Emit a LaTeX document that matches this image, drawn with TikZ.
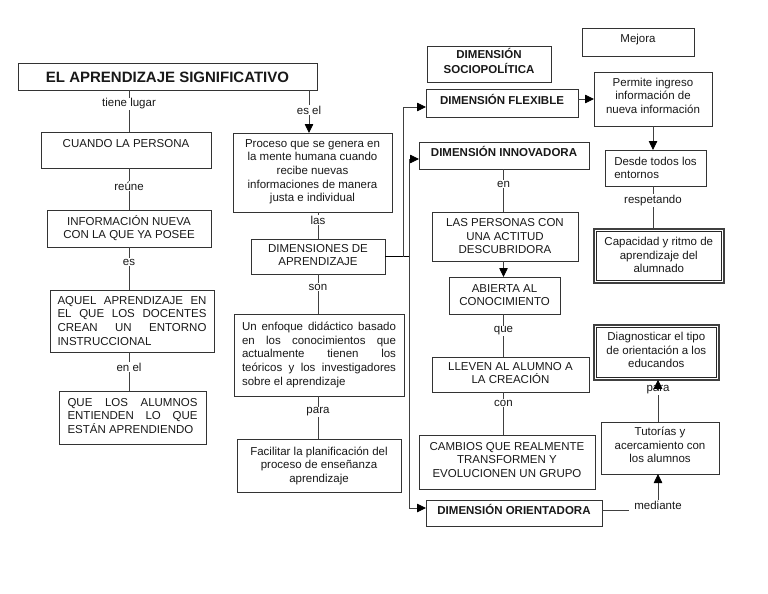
\documentclass[tikz,border=0pt]{standalone}
\usepackage{fontspec}
\setmainfont{Liberation Sans}
\usetikzlibrary{arrows.meta}
\newcommand{\fs}{\fontsize{11.5pt}{13.7pt}\selectfont}
\newcommand{\jl}[2]{\makebox[#1pt][s]{#2}}
\newcommand{\jlast}[2]{\makebox[#1pt][l]{#2}}
\begin{document}
\begin{tikzpicture}[x=1pt,y=-1pt,
 box/.style={draw=black!80, line width=0.8pt, inner sep=0pt, outer sep=0pt, anchor=north west, align=center, font=\fs, text=black!90},
 one/.style={text height=10pt, text depth=#1pt},
 multi/.style={text height=#1pt, text depth=2pt},
 dbox/.style={box, line width=1.6pt, draw=black!75},
 inner/.style={draw=black!85, line width=0.7pt},
 bold/.style={font=\fs\bfseries},
 lbl/.style={fill=white, inner sep=1pt, font=\fs, text=black!90},
 conn/.style={draw=black!75, line width=0.8pt},
 arr/.style={conn, -{Triangle[length=9pt,width=8.5pt,black]}},
 trunk/.style={draw=black, line width=1.8pt}]

\useasboundingbox[fill=white] (0,0) rectangle (768,594);

% spines
\coordinate (xL) at (129,0);
\coordinate (xT) at (309,0);
\coordinate (xM) at (318,0);
\coordinate (tA) at (403,0);
\coordinate (tB) at (409,0);
\coordinate (xR) at (503.5,0);
\coordinate (xP) at (653,0);
\coordinate (xD) at (658,0);
\coordinate (medL) at (629,0);

% left column
\node[box, font=\fontsize{15pt}{17pt}\selectfont\bfseries, minimum width=299pt, minimum height=27pt, text height=12pt, text depth=1pt] (title) at (18,63) {EL APRENDIZAJE SIGNIFICATIVO};
\node[box, one=16, minimum width=170pt, minimum height=36pt] (cuando) at (41,132) {CUANDO LA PERSONA};
\node[box, multi=22.4, minimum width=164pt, minimum height=37pt] (info) at (47,210) {INFORMACIÓN NUEVA\\CON LA QUE YA POSEE};
\node[box, align=left, multi=50.2, minimum width=164pt, minimum height=62pt] (aquel) at (50,290) {\jl{149}{AQUEL APRENDIZAJE EN}\\\jl{149}{EL QUE LOS DOCENTES}\\\jl{149}{CREAN UN ENTORNO}\\\jlast{149}{INSTRUCCIONAL}};
\node[box, align=left, multi=33.8, minimum width=147pt, minimum height=53pt] (que) at (59,391) {\jl{130}{QUE LOS ALUMNOS}\\\jl{130}{ENTIENDEN LO QUE}\\\jlast{130}{ESTÁN APRENDIENDO}};

% middle column
\node[box, multi=60.6, minimum width=159pt, minimum height=79pt] (proc) at (233,133) {Proceso que se genera en\\la mente humana cuando\\recibe nuevas\\informaciones de manera\\justa e individual};
\node[box, multi=20.4, minimum width=134pt, minimum height=35pt] (dim) at (251,239) {DIMENSIONES DE\\APRENDIZAJE};
\node[box, align=left, multi=62.6, minimum width=170pt, minimum height=82pt] (enf) at (234,314) {\jl{154}{Un enfoque didáctico basado}\\\jl{154}{en los conocimientos que}\\\jl{154}{actualmente tienen los}\\\jl{154}{teóricos y los investigadores}\\\jlast{154}{sobre el aprendizaje}};
\node[box, multi=35.8, minimum width=164pt, minimum height=53pt] (fac) at (237,439) {Facilitar la planificación del\\proceso de enseñanza\\aprendizaje};

% dimension column
\node[box, bold, multi=22, minimum width=124pt, minimum height=36pt] (socio) at (427,46) {DIMENSIÓN\\[1.3pt]SOCIOPOLÍTICA};
\node[box, bold, one=8, minimum width=152pt, minimum height=28pt] (flex) at (426,89) {DIMENSIÓN FLEXIBLE};
\node[box, bold, one=9, minimum width=170pt, minimum height=27pt] (innov) at (419,142) {DIMENSIÓN INNOVADORA};
\node[box, multi=36.8, minimum width=146pt, minimum height=49pt] (las) at (432,212) {LAS PERSONAS CON\\UNA ACTITUD\\DESCUBRIDORA};
\node[box, multi=22.4, minimum width=111pt, minimum height=37pt] (abi) at (449,277) {ABIERTA AL\\CONOCIMIENTO};
\node[box, multi=20.4, minimum width=157pt, minimum height=35pt] (lle) at (432,357) {LLEVEN AL ALUMNO A\\LA CREACIÓN};
\node[box, multi=32.8, minimum width=176pt, minimum height=54pt] (cam) at (419,435) {CAMBIOS QUE REALMENTE\\TRANSFORMEN Y\\EVOLUCIONEN UN GRUPO};
\node[box, bold, one=8, minimum width=176pt, minimum height=26pt] (ori) at (426,500) {DIMENSIÓN ORIENTADORA};

% right column
\node[box, one=8, minimum width=112pt, minimum height=28pt] (mej) at (582,28) {Mejora};
\node[box, multi=30.8, minimum width=118pt, minimum height=54pt] (perm) at (594,72) {Permite ingreso\\información de\\nueva información};
\node[box, align=left, multi=23.4, minimum width=101pt, minimum height=36pt] (des) at (605,150) {Desde todos los\\entornos};
\node[dbox, multi=35.8, minimum width=130pt, minimum height=54pt] (cap) at (593.8,228.8) {Capacidad y ritmo de\\aprendizaje del\\alumnado};
\draw[inner] ([xshift=2.8pt,yshift=-2.8pt]cap.north west) rectangle ([xshift=-2.8pt,yshift=2.8pt]cap.south east);
\node[dbox, multi=32.8, minimum width=125pt, minimum height=55pt] (diag) at (593.8,324.8) {Diagnosticar el tipo\\de orientación a los\\educandos};
\draw[inner] ([xshift=2.8pt,yshift=-2.8pt]diag.north west) rectangle ([xshift=-2.8pt,yshift=2.8pt]diag.south east);
\node[box, multi=31.8, minimum width=118pt, minimum height=52pt] (tut) at (601,422) {Tutorías y\\acercamiento con\\los alumnos};
\node[lbl] (med) at (658,505) {mediante};

% connectors left
\draw[conn] (title.south -| xL) -- node[lbl,pos=.333]{tiene lugar} (cuando.north -| xL);
\draw[conn] (cuando.south -| xL) -- node[lbl,pos=.43]{reúne} (info.north -| xL);
\draw[conn] (info.south -| xL) -- node[lbl,pos=.35]{es} (aquel.north -| xL);
\draw[conn] (aquel.south -| xL) -- node[lbl,pos=.385]{en el} (que.north -| xL);

% connectors middle
\draw[arr] (title.south -| xT) -- node[lbl,pos=.465]{es el} (proc.north -| xT);
\draw[conn] (proc.south -| xM) -- node[lbl,pos=.3]{las} (dim.north -| xM);
\draw[conn] (dim.south -| xM) -- node[lbl,pos=.325]{son} (enf.north -| xM);
\draw[conn] (enf.south -| xM) -- node[lbl,pos=.37]{para} (fac.north -| xM);

% trunk to dimensions
\draw[trunk] (dim.east) -- (dim.east -| tB);
\draw[arr] (dim.east -| tA) |- ([yshift=-4pt]flex.west);
\draw[arr] ([yshift=-3.5pt]innov.west -| tB) -- ([yshift=-3.5pt]innov.west);
\draw[arr] ([yshift=-3.5pt]innov.west -| tB) |- ([yshift=5pt]ori.west);
\draw[arr] (flex.east |- perm.west) -- (perm.west);

% innovadora chain
\draw[conn] (innov.south -| xR) -- node[lbl,pos=.35]{en} (las.north -| xR);
\draw[arr] (las.south -| xR) -- (abi.north -| xR);
\draw[conn] (abi.south -| xR) -- node[lbl,pos=.395]{que} (lle.north -| xR);
\draw[conn] (lle.south -| xR) -- node[lbl,pos=.256]{con} (cam.north -| xR);

% right chain
\draw[arr] (perm.south -| xP) -- (des.north -| xP);
\draw[conn] (des.south -| xP) -- node[lbl,pos=.333]{respetando} (cap.north -| xP);
\path (tut.north -| xD) -- node[lbl,pos=.76] (lpara) {para} (diag.south -| xD);
\draw[conn] (tut.north -| xD) -- (lpara.south -| xD);
\draw[arr] (lpara.center -| xD) -- (diag.south -| xD);
\draw[conn] ([yshift=3pt]ori.east) -- ([yshift=3pt]ori.east -| medL);
\draw[arr] (med.north) -- (tut.south -| med.north);
\end{tikzpicture}
\end{document}
